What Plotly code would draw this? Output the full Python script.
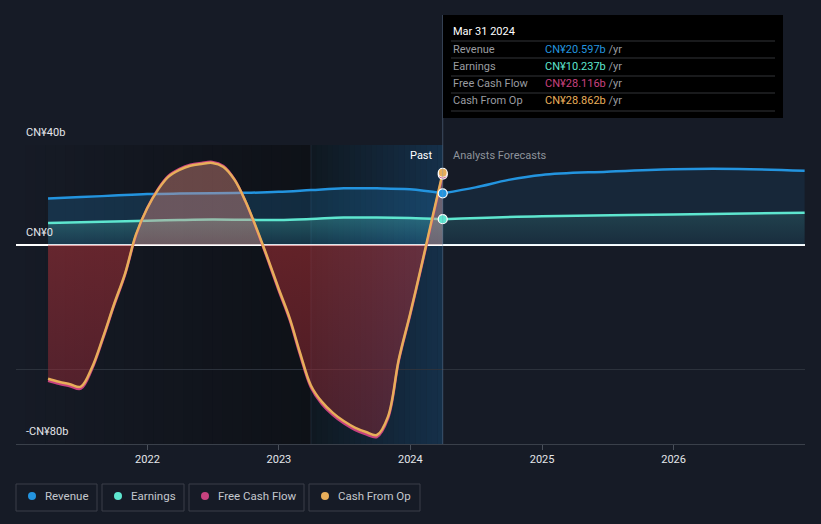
import plotly.graph_objects as go
import pandas as pd

W, H = 821, 524

# ---------------- data (CN¥ billions) ----------------
# month-end readings, Mar 2021 .. Mar 2024
cash_dates = [d.strftime("%Y-%m-%d") for d in pd.date_range("2021-03-31", "2024-03-31", freq="ME")]
cfo_values = [-53.8, -55.0, -56.0, -57.0, -49.3, -37.0, -24.0, -11.5, 4.0, 14.5, 22.2, 27.2,
              30.0, 31.7, 32.4, 32.8, 31.2, 26.0, 17.5, 6.5, -5.0, -17.5, -29.5, -43.0,
              -56.5, -63.0, -67.5, -70.8, -73.4, -75.2, -76.4, -69.0, -46.0, -28.0, -9.0, 9.5,
              28.862]
fcf_values = [-54.6, -55.8, -56.8, -57.8, -50.0, -37.6, -24.6, -12.0, 3.6, 14.6, 22.5, 27.6,
              30.4, 32.1, 32.8, 33.2, 31.6, 26.2, 17.4, 6.2, -5.6, -18.2, -30.2, -43.8,
              -57.3, -63.9, -68.4, -71.7, -74.3, -76.1, -77.2, -69.8, -46.6, -28.6, -9.6, 8.8,
              28.116]

rev_past_dates = ["2021-03-31", "2021-06-30", "2021-09-30", "2021-12-31", "2022-03-31", "2022-06-30",
                  "2022-09-30", "2022-12-31", "2023-03-31", "2023-06-30", "2023-09-30", "2023-12-31",
                  "2024-03-31"]
rev_past_values = [18.5, 19.1, 19.7, 20.3, 20.5, 20.6, 20.8, 21.2, 21.9, 22.6, 22.6, 22.2, 20.597]
earn_past_values = [8.7, 9.0, 9.3, 9.6, 9.9, 10.1, 10.0, 9.9, 10.3, 10.9, 10.9, 10.7, 10.237]

rev_fc_dates = ["2024-03-31", "2024-06-30", "2024-09-30", "2024-12-31", "2025-06-30",
                "2025-12-31", "2026-06-30", "2026-12-31"]
rev_fc_values = [20.597, 23.0, 26.0, 28.0, 29.3, 30.3, 30.4, 29.7]
earn_fc_dates = ["2024-03-31", "2024-12-31", "2025-12-31", "2026-12-31"]
earn_fc_values = [10.237, 11.4, 12.1, 12.8]

y_tick_vals = [40, 0, -80]
y_tick_text = ["CN¥40b", "CN¥0", "-CN¥80b"]
x_tick_vals = ["2022-01-01", "2023-01-01", "2024-01-01", "2025-01-01", "2026-01-01"]
x_tick_text = ["2022", "2023", "2024", "2025", "2026"]

tip_title = "Mar 31 2024"
tip_labels = ["Revenue", "Earnings", "Free Cash Flow", "Cash From Op"]
tip_values = ["CN¥20.597b", "CN¥10.237b", "CN¥28.116b", "CN¥28.862b"]
legend_names = ["Revenue", "Earnings", "Free Cash Flow", "Cash From Op"]

# ---------------- style ----------------
BG = "#161b26"
C_REV = "#2394df"
C_EARN = "#5ee6cf"
C_FCF = "#c8427f"
C_CFO = "#e8ae5a"
FONT = "Roboto, 'Open Sans', sans-serif"

def px(x):
    return x / W

def py(y):
    return 1 - y / H

PLOT_L, PLOT_R, PLOT_T, PLOT_B = 16, 805, 145, 444
now = "2024-03-31"

fig = go.Figure()

# Revenue
fig.add_trace(go.Scatter(x=rev_past_dates, y=rev_past_values, mode="lines", fill="tozeroy",
                         fillcolor="rgba(35,148,223,0.20)",
                         line=dict(color=C_REV, width=2.5, shape="spline", smoothing=1.0),
                         hoverinfo="skip", showlegend=False))
fig.add_trace(go.Scatter(x=rev_fc_dates, y=rev_fc_values, mode="lines", fill="tozeroy",
                         fillcolor="rgba(35,148,223,0.10)",
                         line=dict(color=C_REV, width=2.5, shape="spline", smoothing=1.0),
                         hoverinfo="skip", showlegend=False))
# Earnings
fig.add_trace(go.Scatter(x=rev_past_dates, y=earn_past_values, mode="lines", fill="tozeroy",
                         fillgradient=dict(type="vertical", start=0, stop=11,
                                           colorscale=[[0, "rgba(93,232,208,0.04)"],
                                                       [1, "rgba(93,232,208,0.24)"]]),
                         line=dict(color=C_EARN, width=2.5, shape="spline", smoothing=1.0),
                         hoverinfo="skip", showlegend=False))
fig.add_trace(go.Scatter(x=earn_fc_dates, y=earn_fc_values, mode="lines", fill="tozeroy",
                         fillgradient=dict(type="vertical", start=0, stop=13,
                                           colorscale=[[0, "rgba(93,232,208,0.03)"],
                                                       [1, "rgba(93,232,208,0.14)"]]),
                         line=dict(color=C_EARN, width=2.5, shape="spline", smoothing=1.0),
                         hoverinfo="skip", showlegend=False))
# Cash flow fill
fig.add_trace(go.Scatter(x=cash_dates, y=cfo_values, mode="lines", fill="tozeroy",
                         fillgradient=dict(type="vertical", start=-80, stop=40,
                                           colorscale=[[0, "rgba(160,40,55,0.40)"],
                                                       [0.666, "rgba(190,52,58,0.48)"],
                                                       [0.667, "rgba(222,140,128,0.42)"],
                                                       [1, "rgba(222,140,128,0.42)"]]),
                         line=dict(color="rgba(0,0,0,0)", width=0, shape="spline", smoothing=1.0),
                         hoverinfo="skip", showlegend=False))
fig.add_trace(go.Scatter(x=cash_dates, y=fcf_values, mode="lines",
                         line=dict(color=C_FCF, width=2.5, shape="spline", smoothing=1.0),
                         hoverinfo="skip", showlegend=False))
fig.add_trace(go.Scatter(x=cash_dates, y=cfo_values, mode="lines",
                         line=dict(color=C_CFO, width=2.5, shape="spline", smoothing=1.0),
                         hoverinfo="skip", showlegend=False))

# end markers
fig.add_trace(go.Scatter(x=[rev_past_dates[-1]] * 4,
                         y=[earn_past_values[-1], rev_past_values[-1], fcf_values[-1], cfo_values[-1]],
                         mode="markers",
                         marker=dict(size=9, color=[C_EARN, C_REV, C_FCF, C_CFO],
                                     line=dict(color="white", width=1.2)),
                         hoverinfo="skip", showlegend=False))

# ---------------- background regions ----------------
def hexrgb(h):
    h = h.lstrip("#")
    return tuple(int(h[i:i + 2], 16) for i in (0, 2, 4))

def lerp(c1, c2, t):
    a, b = hexrgb(c1), hexrgb(c2)
    return "rgb(%d,%d,%d)" % tuple(round(a[i] + (b[i] - a[i]) * t) for i in range(3))

def stripes(start, end, c1, c2, n):
    s, e = pd.Timestamp(start), pd.Timestamp(end)
    step = (e - s) / n
    for i in range(n):
        x0 = s + step * i
        x1 = s + step * (i + 1) + pd.Timedelta(days=1)
        fig.add_shape(type="rect", xref="x", yref="paper", x0=x0, x1=min(x1, e),
                      y0=py(PLOT_B), y1=py(PLOT_T), fillcolor=lerp(c1, c2, (i + 0.5) / n),
                      line=dict(width=0), layer="below")

stripes("2021-01-01", "2023-03-31", BG, "#0e1117", 30)
stripes("2023-03-31", now, "#0f1820", "#15304a", 24)

fig.add_shape(type="line", xref="x", yref="paper", x0="2023-03-31", x1="2023-03-31",
              y0=py(PLOT_B), y1=py(PLOT_T), line=dict(color="rgba(110,140,170,0.18)", width=1),
              layer="below")
fig.add_shape(type="line", xref="x", yref="paper", x0=now, x1=now,
              y0=py(PLOT_B), y1=py(15), line=dict(color="rgba(120,150,180,0.40)", width=1),
              layer="above")

# ---------------- tooltip ----------------
fig.add_shape(type="rect", xref="paper", yref="paper", x0=px(443), x1=px(783),
              y0=py(118), y1=py(15), fillcolor="#000000", line=dict(width=0), layer="above")
for yy in [41, 58, 76, 93, 111]:
    fig.add_shape(type="line", xref="paper", yref="paper", x0=px(451), x1=px(775),
                  y0=py(yy), y1=py(yy), line=dict(color="#333438", width=1), layer="above")

ann = []
ann.append(dict(x=px(451), y=py(31), xref="paper", yref="paper", xanchor="left", yanchor="middle",
                text=tip_title, showarrow=False, font=dict(color="#ffffff", size=11, family=FONT)))
tip_cols = [C_REV, C_EARN, C_FCF, C_CFO]
for lab, val, col, yy in zip(tip_labels, tip_values, tip_cols, [49, 66.5, 84, 101]):
    ann.append(dict(x=px(451), y=py(yy), xref="paper", yref="paper", xanchor="left",
                    yanchor="middle", text=lab, showarrow=False,
                    font=dict(color="#9a9ca0", size=11, family=FONT)))
    ann.append(dict(x=px(543), y=py(yy), xref="paper", yref="paper", xanchor="left",
                    yanchor="middle",
                    text="<span style='color:%s'>%s</span> /yr" % (col, val), showarrow=False,
                    font=dict(color="#9a9ca0", size=11, family=FONT)))

# Past / forecast labels
ann.append(dict(x=now, y=py(156), xref="x", yref="paper", xanchor="right", yanchor="middle",
                xshift=-8, text="Past", showarrow=False,
                font=dict(color="#ffffff", size=11, family=FONT)))
ann.append(dict(x=now, y=py(156), xref="x", yref="paper", xanchor="left", yanchor="middle",
                xshift=8, text="Analysts Forecasts", showarrow=False,
                font=dict(color="#8e939b", size=11, family=FONT)))

# y tick labels
for v, t in zip(y_tick_vals, y_tick_text):
    ann.append(dict(x=px(24), y=v, xref="paper", yref="y", xanchor="left", yanchor="middle",
                    yshift=12.5, text=t, showarrow=False,
                    font=dict(color="#e4e6ea", size=11, family=FONT)))

# ---------------- legend ----------------
boxes = [(16, 97), (102, 184), (189, 304), (309, 420)]
leg_cols = [C_REV, C_EARN, C_FCF, C_CFO]
for (x0, x1), name, col in zip(boxes, legend_names, leg_cols):
    fig.add_shape(type="rect", xref="paper", yref="paper", x0=px(x0), x1=px(x1),
                  y0=py(511), y1=py(484), line=dict(color="#3a3f48", width=1),
                  fillcolor="rgba(0,0,0,0)")
    cx, cy = x0 + 16, 496
    fig.add_shape(type="circle", xref="paper", yref="paper", x0=px(cx - 4), x1=px(cx + 4),
                  y0=py(cy + 4), y1=py(cy - 4), fillcolor=col, line=dict(width=0))
    ann.append(dict(x=px(x0 + 27), y=py(cy), xref="paper", yref="paper", xanchor="left",
                    yanchor="middle", text=name, showarrow=False,
                    font=dict(color="#c4c7cd", size=11.5, family=FONT)))

fig.update_layout(
    width=W, height=H, autosize=False,
    margin=dict(l=0, r=0, t=0, b=0),
    paper_bgcolor=BG, plot_bgcolor=BG,
    annotations=ann,
    xaxis=dict(type="date", range=["2021-01-01", "2027-01-01"],
               domain=[px(PLOT_L), px(PLOT_R)],
               tickvals=x_tick_vals, ticktext=x_tick_text,
               ticks="outside", ticklen=5, tickcolor="#4a505a", tickwidth=1,
               showgrid=False, zeroline=False,
               showline=True, linecolor="#3a404a", linewidth=1,
               tickfont=dict(color="#e4e6ea", size=11, family=FONT)),
    yaxis=dict(range=[-80, 40], domain=[py(PLOT_B), py(PLOT_T)],
               tickvals=[-80, -50, 40], showticklabels=False,
               showgrid=True, gridcolor="#2c323c", gridwidth=1,
               zeroline=True, zerolinecolor="#ffffff", zerolinewidth=1.5,
               fixedrange=True),
    showlegend=False,
)

fig.write_html("out.html")
